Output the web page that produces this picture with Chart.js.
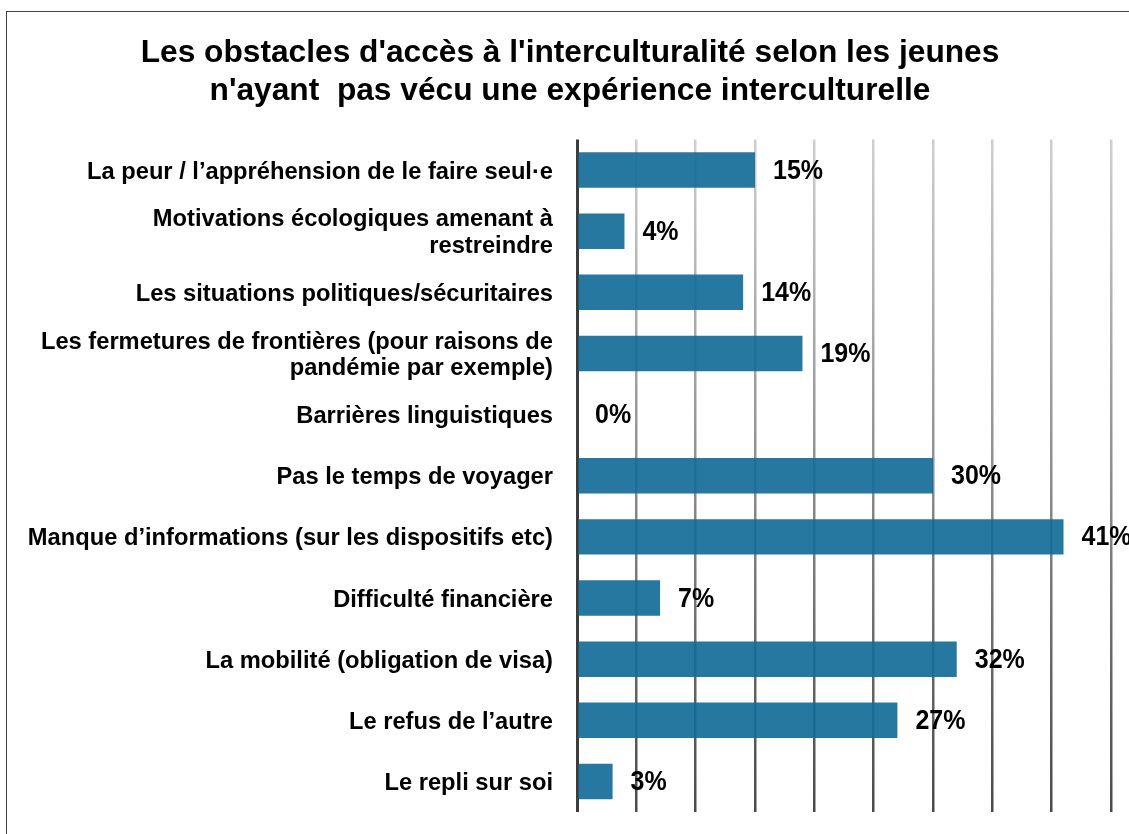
<!DOCTYPE html>
<html>
<head>
<meta charset="utf-8">
<script src="https://cdn.jsdelivr.net/npm/chart.js@4"></script>
<style>
  html, body { margin: 0; padding: 0; background: #fff; }
  canvas { display: block; }
</style>
</head>
<body>
<canvas id="c" width="1129" height="834"></canvas>
<script>
const titleLines = [
  "Les obstacles d'accès à l'interculturalité selon les jeunes",
  "n'ayant  pas vécu une expérience interculturelle"
];
const categories = [
  ["La peur / l’appréhension de le faire seul·e"],
  ["Motivations écologiques amenant à", "restreindre"],
  ["Les situations politiques/sécuritaires"],
  ["Les fermetures de frontières (pour raisons de", "pandémie par exemple)"],
  ["Barrières linguistiques"],
  ["Pas le temps de voyager"],
  ["Manque d’informations (sur les dispositifs etc)"],
  ["Difficulté financière"],
  ["La mobilité (obligation de visa)"],
  ["Le refus de l’autre"],
  ["Le repli sur soi"]
];
const values = [15, 4, 14, 19, 0, 30, 41, 7, 32, 27, 3];
const axisMax = 45;
const axisStep = 5;

const FONT = '"Liberation Sans", Arial, Helvetica, sans-serif';

const framePlugin = {
  id: 'frame',
  beforeDraw(chart) {
    const ctx = chart.ctx;
    ctx.save();
    ctx.fillStyle = '#fff';
    ctx.fillRect(0, 0, chart.width, chart.height);
    ctx.strokeStyle = '#444';
    ctx.lineWidth = 1;
    ctx.strokeRect(6.5, 11.5, chart.width + 50, chart.height + 50);
    ctx.restore();
  }
};

const titlePlugin = {
  id: 'customTitle',
  afterDraw(chart) {
    const ctx = chart.ctx;
    ctx.save();
    ctx.font = 'bold 31.7px ' + FONT;
    ctx.fillStyle = '#000';
    ctx.textAlign = 'center';
    ctx.textBaseline = 'middle';
    ctx.fillText(titleLines[0], 570, 53);
    ctx.fillText(titleLines[1], 570, 91);
    ctx.restore();
  }
};

const valueLabels = {
  id: 'valueLabels',
  afterDatasetsDraw(chart) {
    const ctx = chart.ctx;
    const meta = chart.getDatasetMeta(0);
    ctx.save();
    ctx.font = 'bold 25px ' + FONT;
    ctx.fillStyle = '#000';
    ctx.textAlign = 'left';
    ctx.textBaseline = 'middle';
    meta.data.forEach((bar, i) => {
      ctx.save();
      ctx.translate(bar.x + 18, bar.y + 1);
      ctx.scale(1, 1.1);
      ctx.fillText(values[i] + '%', 0, 0);
      ctx.restore();
    });
    ctx.restore();
  }
};

function gridColor(c) {
  if (c.tick && c.tick.value === 0) return '#3c3c3c';
  const chart = c.chart;
  const area = chart.chartArea;
  if (!area) return '#999';
  const g = chart.ctx.createLinearGradient(0, area.top, 0, area.bottom);
  g.addColorStop(0, '#cfcfcf');
  g.addColorStop(1, '#4a4a4a');
  return g;
}

new Chart(document.getElementById('c'), {
  type: 'bar',
  data: {
    labels: categories,
    datasets: [{
      data: values,
      backgroundColor: 'rgba(21,109,152,0.92)',
      borderWidth: 0,
      categoryPercentage: 1.0,
      barPercentage: 0.58
    }]
  },
  options: {
    indexAxis: 'y',
    responsive: false,
    devicePixelRatio: 1,
    animation: false,
    layout: { padding: { left: 0, right: 18, top: 139.5, bottom: 22 } },
    plugins: {
      legend: { display: false },
      tooltip: { enabled: false },
      title: { display: false }
    },
    scales: {
      x: {
        min: 0,
        max: axisMax,
        ticks: { display: false, stepSize: axisStep },
        border: { display: false },
        grid: {
          drawTicks: false,
          color: gridColor,
          lineWidth: (c) => (c.tick && c.tick.value === 0) ? 3 : 2.5
        }
      },
      y: {
        ticks: {
          color: '#000',
          padding: 24,
          labelOffset: 2,
          autoSkip: false,
          font: { family: FONT, size: 23.7, weight: 'bold', lineHeight: 1.12 }
        },
        grid: { display: false, drawTicks: false },
        border: { display: false },
        afterFit(scale) {
          scale.width = 577;
          scale.paddingTop = 0;
          scale.paddingBottom = 0;
        }
      }
    }
  },
  plugins: [framePlugin, valueLabels, titlePlugin]
});
</script>
</body>
</html>
